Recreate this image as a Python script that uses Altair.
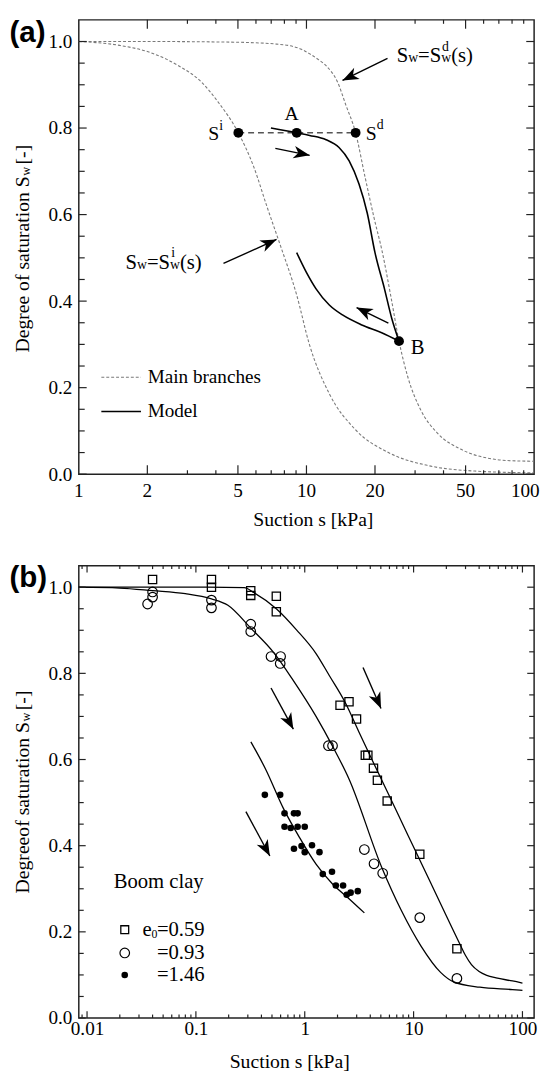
import math
import altair as alt
import pandas as pd

SERIF = "Liberation Serif"
SANS = "Liberation Sans"
FRAME = "#222222"

# ---------------- panel (a) data ----------------
dry_s = [1, 2, 4, 6, 7.4, 8.5, 9.5, 10.3, 11.3, 12.2, 13.7, 14.9, 16.44, 18.1, 19.9, 21.5, 23.5, 25.5, 27.9, 31.8, 37.6, 47.5, 66, 80, 100]
dry_v = [1.0, 1.0, 0.999, 0.997, 0.994, 0.990, 0.982, 0.972, 0.958, 0.944, 0.906, 0.853, 0.789, 0.686, 0.588, 0.515, 0.41, 0.3075, 0.224, 0.148, 0.095, 0.058, 0.035, 0.031, 0.03]
wet_s = [1, 1.51, 2.1, 2.74, 3.46, 4.08, 5.02, 5.88, 6.71, 7.7, 9.06, 10.3, 12.6, 16.4, 22.9, 34.2, 56, 100]
wet_v = [1.0, 0.991, 0.973, 0.944, 0.906, 0.861, 0.789, 0.709, 0.618, 0.527, 0.414, 0.30, 0.186, 0.103, 0.05, 0.02, 0.007, 0.003]
mod1_s = [6.98, 9.06, 10.33, 12.2, 13.9, 15.4, 17.0, 18.5, 20.0, 22.0, 23.7, 25.5]
mod1_v = [0.800, 0.789, 0.783, 0.773, 0.755, 0.724, 0.671, 0.603, 0.512, 0.429, 0.36, 0.3075]
mod2_s = [9.06, 9.98, 11.0, 12.6, 14.4, 17.5, 21.4, 25.5]
mod2_v = [0.512, 0.467, 0.429, 0.391, 0.368, 0.345, 0.327, 0.3075]
pt_names = ["si", "A", "sd", "B"]
pt_s = [5.02, 9.06, 16.44, 25.5]
pt_v = [0.789, 0.789, 0.789, 0.3075]
scan_s = [5.02, 16.44]
scan_v = [0.789, 0.789]
# arrows: tail s, tail v, tip s, tip v
arrows_a = [
    (22.7, 0.961, 14.4, 0.91),
    (7.3, 0.753, 10.33, 0.737),
    (4.32, 0.487, 7.39, 0.5425),
    (22.9, 0.349, 16.6, 0.385),
]

# ---------------- panel (b) data ----------------
c59_s = [0.0084, 0.1, 0.278, 0.343, 0.548, 0.84, 1.27, 1.68, 2.38, 3.13, 4.14, 5.84, 8.85, 11.4, 17.7, 26.8, 30, 34, 40, 47, 57.3, 81, 100]
c59_v = [1.0, 1.0, 0.999, 0.987, 0.950, 0.901, 0.846, 0.795, 0.730, 0.665, 0.600, 0.521, 0.425, 0.367, 0.265, 0.170, 0.145, 0.124, 0.108, 0.099, 0.093, 0.086, 0.081]
c93_s = [0.0084, 0.02, 0.04, 0.08, 0.139, 0.197, 0.319, 0.519, 0.786, 1.27, 1.8, 2.55, 5.09, 7.7, 11.7, 17.7, 23.3, 40.6, 81, 100]
c93_v = [1.0, 0.998, 0.992, 0.985, 0.973, 0.958, 0.905, 0.848, 0.783, 0.70, 0.631, 0.555, 0.35, 0.25, 0.167, 0.106, 0.084, 0.0715, 0.066, 0.064]
c146_s = [0.32, 0.436, 0.638, 0.90, 1.27, 1.80, 2.55, 3.53]
c146_v = [0.641, 0.578, 0.486, 0.418, 0.357, 0.311, 0.277, 0.244]
sq_s = [0.040, 0.139, 0.139, 0.319, 0.319, 0.548, 0.548, 2.11, 2.55, 2.99, 3.6, 3.8, 4.28, 4.65, 5.72, 11.4, 25.0]
sq_v = [1.018, 1.018, 1.0, 0.992, 0.981, 0.979, 0.943, 0.726, 0.734, 0.694, 0.610, 0.610, 0.58, 0.552, 0.504, 0.38, 0.161]
ci_s = [0.040, 0.040, 0.036, 0.139, 0.139, 0.319, 0.319, 0.49, 0.60, 0.595, 1.65, 1.80, 3.53, 4.33, 5.2, 11.4, 25.0]
ci_v = [0.989, 0.977, 0.961, 0.970, 0.952, 0.914, 0.897, 0.839, 0.839, 0.823, 0.632, 0.632, 0.391, 0.358, 0.336, 0.233, 0.092]
dot_s = [0.43, 0.595, 0.652, 0.796, 0.86, 0.652, 0.743, 0.86, 1.0, 0.796, 0.934, 1.0, 1.166, 1.365, 1.465, 1.78, 1.93, 2.25, 2.43, 2.64, 3.07]
dot_v = [0.518, 0.518, 0.475, 0.475, 0.475, 0.444, 0.441, 0.444, 0.444, 0.393, 0.399, 0.385, 0.401, 0.385, 0.334, 0.3395, 0.3075, 0.3075, 0.286, 0.291, 0.2945]
arrows_b = [
    (3.43, 0.8135, 5.02, 0.7185),
    (0.49, 0.766, 0.786, 0.6705),
    (0.288, 0.479, 0.478, 0.376),
]

# ---------------- axis tick values / labels ----------------
Y_LABELS = [0, 0.2, 0.4, 0.6, 0.8, 1.0]
Y_MINOR = [0.05, 0.1, 0.15, 0.25, 0.3, 0.35, 0.45, 0.5, 0.55, 0.65, 0.7, 0.75, 0.85, 0.9, 0.95]
A_XLAB = [1, 2, 5, 10, 20, 50]
A_XLAB_TXT = ["1", "2", "5", "10", "20", "50"]
A_XLAB_END = [100]
A_XLAB_END_TXT = ["100"]
A_XMAJ = [2, 5, 10, 20, 50]
A_XMIN = [3, 4, 6, 7, 8, 9, 30, 40, 60, 70, 80, 90]
B_XLAB = [0.01, 0.1, 1, 10, 100]
B_XMIN = [0.009, 0.02, 0.03, 0.04, 0.05, 0.06, 0.07, 0.08, 0.09,
          0.2, 0.3, 0.4, 0.5, 0.6, 0.7, 0.8, 0.9,
          2, 3, 4, 5, 6, 7, 8, 9,
          20, 30, 40, 50, 60, 70, 80, 90]

# ---------------- geometry ----------------
W = 463
HA = 462
HB = 460
XA_DOM = [1, 100]
XB_DOM = [0.0084, 128]
Y_DOM = [0, 1.05]
LABEL_SIZE = 19.5


def xaxis(vals, pad):
    return alt.Axis(values=vals, format="~g", labelFont=SERIF, labelFontSize=LABEL_SIZE,
                    labelColor="black", ticks=False, domain=False, grid=False,
                    labelPadding=pad, labelFlush=False, labelOverlap=False, title=None)


def yaxis():
    return alt.Axis(values=Y_LABELS, format=".1f", labelFont=SERIF, labelFontSize=LABEL_SIZE,
                    labelColor="black", ticks=False, domain=False, grid=False,
                    labelPadding=7, labelOverlap=False, title=None)


def pix_factory(dom, H):
    lo, hi = math.log10(dom[0]), math.log10(dom[1])

    def pix(s, v):
        return (W * (math.log10(s) - lo) / (hi - lo), H * (1 - v / Y_DOM[1]))
    return pix


PA = dict(
    xs=alt.Scale(type="log", domain=XA_DOM, nice=False),
    ys=alt.Scale(domain=Y_DOM, nice=False, zero=False),
    xax=None, yax=yaxis(), H=HA, pix=pix_factory(XA_DOM, HA),
)
PB = dict(
    xs=alt.Scale(type="log", domain=XB_DOM, nice=False),
    ys=alt.Scale(domain=Y_DOM, nice=False, zero=False),
    xax=xaxis(B_XLAB, 2), yax=yaxis(), H=HB, pix=pix_factory(XB_DOM, HB),
)


def X(p):
    return alt.X("s:Q", scale=p["xs"], axis=p["xax"])


def Y(p):
    return alt.Y("v:Q", scale=p["ys"], axis=p["yax"])


def curve(p, s, v, color="black", width=1.4, dash=None, interp="monotone"):
    df = pd.DataFrame({"s": s, "v": v})
    kw = dict(color=color, strokeWidth=width, interpolate=interp)
    if dash:
        kw["strokeDash"] = dash
    return alt.Chart(df).mark_line(**kw).encode(x=X(p), y=Y(p))


def ticks(p, xmaj, xmin, lxmaj, lxmin, lymaj, lymin):
    H = p["H"]
    out = []
    for vals, L in [(Y_LABELS, lymaj), (Y_MINOR, lymin)]:
        base = alt.Chart(pd.DataFrame({"v": vals})).mark_rule(color=FRAME, strokeWidth=1.2)
        out.append(base.encode(y=Y(p), x=alt.value(0), x2=alt.value(L)))
        out.append(base.encode(y=Y(p), x=alt.value(W), x2=alt.value(W - L)))
    for vals, L in [(xmaj, lxmaj), (xmin, lxmin)]:
        base = alt.Chart(pd.DataFrame({"s": vals})).mark_rule(color=FRAME, strokeWidth=1.2)
        out.append(base.encode(x=X(p), y=alt.value(H), y2=alt.value(H - L)))
        out.append(base.encode(x=X(p), y=alt.value(0), y2=alt.value(L)))
    return out


def xlabels(p, vals, txt, pad, dx=0):
    df = pd.DataFrame({"s": vals, "t": txt})
    return alt.Chart(df).mark_text(align="center", baseline="top", dx=dx, fontSize=LABEL_SIZE,
                                   font=SERIF, color="black").encode(
        x=X(p), y=alt.value(p["H"] + pad), text="t:N")


def text(p, s, v, t, size=20, dx=0, dy=0, align="left", baseline="alphabetic"):
    df = pd.DataFrame({"s": [s], "v": [v], "t": [t]})
    return alt.Chart(df).mark_text(align=align, baseline=baseline, dx=dx, dy=dy, fontSize=size,
                                   font=SERIF, color="black").encode(x=X(p), y=Y(p), text="t:N")


def comp(p, s, v, pieces, baseline="alphabetic"):
    return [text(p, s, v, t, size=sz, dx=dx, dy=dy, baseline=baseline) for (t, sz, dx, dy) in pieces]


def ptext(x, y, t, size, align="center", baseline="middle", angle=None, dx=0, dy=0,
          font=SERIF, weight="normal"):
    kw = dict(align=align, baseline=baseline, fontSize=size, font=font, fontWeight=weight,
              color="black", dx=dx, dy=dy)
    if angle is not None:
        kw["angle"] = angle
    return alt.Chart(pd.DataFrame({"t": [t]})).mark_text(**kw).encode(
        x=alt.value(x), y=alt.value(y), text="t:N")


HEAD = "M0,0L0.7,1.8L0,1.3L-0.7,1.8Z"


def arrow(p, a):
    s0, v0, s1, v1 = a
    df = pd.DataFrame({"s": [s0, s1], "v": [v0, v1]})
    line = alt.Chart(df).mark_line(color="black", strokeWidth=1.4).encode(x=X(p), y=Y(p))
    x0, y0 = p["pix"](s0, v0)
    x1, y1 = p["pix"](s1, v1)
    ang = math.degrees(math.atan2(x1 - x0, -(y1 - y0))) % 360
    head = alt.Chart(pd.DataFrame({"s": [s1], "v": [v1]})).mark_point(
        shape=HEAD, filled=True, size=330, angle=ang, color="black", opacity=1, strokeWidth=0
    ).encode(x=X(p), y=Y(p))
    return [line, head]


def ytitle(main):
    return [
        ptext(-51, 159, main, 20, align="right", baseline="alphabetic", angle=270),
        ptext(-51, 159, "w", 12.5, align="left", baseline="alphabetic", angle=270, dx=0.5, dy=1),
        ptext(-51, 159, "[-]", 20, align="left", baseline="alphabetic", angle=270, dx=12),
    ]


def sym(p, s, v, shape, size, filled, sw=1.2):
    df = pd.DataFrame({"s": s, "v": v})
    if filled:
        return alt.Chart(df).mark_circle(size=size, color="black", opacity=1).encode(x=X(p), y=Y(p))
    return alt.Chart(df).mark_point(shape=shape, filled=False, size=size, color="black",
                                    strokeWidth=sw, opacity=1).encode(x=X(p), y=Y(p))


# ---------------- build panel (a) ----------------
GRAY = "#7a7a7a"
p = PA
la = []
la.append(curve(p, dry_s, dry_v, color=GRAY, width=1.1, dash=[3, 2]))
la.append(curve(p, wet_s, wet_v, color=GRAY, width=1.1, dash=[3, 2]))
la.append(curve(p, scan_s, scan_v, color="#555555", width=1.6, dash=[6, 4], interp="linear"))
la.append(curve(p, mod1_s, mod1_v, width=1.6))
la.append(curve(p, mod2_s, mod2_v, width=1.6))
la += ticks(p, A_XMAJ, A_XMIN, 9, 4, 8, 6)
la.append(xlabels(p, A_XLAB, A_XLAB_TXT, 8))
la.append(xlabels(p, A_XLAB_END, A_XLAB_END_TXT, 8, dx=-9))
for a in arrows_a:
    la += arrow(p, a)
la.append(sym(p, pt_s, pt_v, "circle", 100, True))
# legend (a)
la.append(curve(p, [1.256, 1.875], [0.224, 0.224], color=GRAY, width=1.1, dash=[3, 2], interp="linear"))
la.append(curve(p, [1.256, 1.875], [0.145, 0.145], width=1.6, interp="linear"))
la.append(text(p, 2.007, 0.224, "Main branches", size=19.5, baseline="middle"))
la.append(text(p, 2.007, 0.145, "Model", size=19.5, baseline="middle"))
# labels
la += comp(p, 3.70, 0.773, [("S", 20, 0, 0), ("i", 14, 11.3, -10)])
la += comp(p, 18.2, 0.773, [("S", 20, 0, 0), ("d", 14, 11.3, -11)])
la.append(text(p, 8.6, 0.832, "A", size=20, align="center", baseline="middle"))
la.append(text(p, 28.7, 0.291, "B", size=21, baseline="middle"))
la += comp(p, 24.9, 0.9516, [("S", 21, 0, 0), ("w", 14, 11.7, 0), ("=S", 21, 21.8, 0),
                             ("w", 14, 45.3, 0), ("d", 14, 46.0, -12), ("(s)", 21, 55.4, 0)])
la += comp(p, 1.603, 0.474, [("S", 21, 0, 0), ("w", 14, 11.7, 0), ("=S", 21, 21.8, 0),
                             ("w", 14, 45.3, 0), ("i", 14, 46.5, -12), ("(s)", 21, 55.4, 0)])
la += ytitle("Degree of saturation S")
la.append(ptext(238.5, HA + 47, "Suction s [kPa]", 20))
la.append(ptext(-70.5, -2, "(a)", 30, align="left", baseline="top", font=SANS, weight="bold"))
chart_a = alt.layer(*la).properties(width=W, height=HA)

# ---------------- build panel (b) ----------------
p = PB
lb = []
lb.append(curve(p, c59_s, c59_v, width=1.3))
lb.append(curve(p, c93_s, c93_v, width=1.3))
lb.append(curve(p, c146_s, c146_v, width=1.3))
lb += ticks(p, B_XLAB, B_XMIN, 7, 3.5, 7, 5)
for a in arrows_b:
    lb += arrow(p, a)
lb.append(sym(p, sq_s, sq_v, "square", 70, False, 1.3))
lb.append(sym(p, ci_s, ci_v, "circle", 95, False, 1.2))
lb.append(sym(p, dot_s, dot_v, "circle", 45, True))
# legend (b)
lb.append(sym(p, [0.0222], [0.205], "square", 64, False, 1.3))
lb.append(sym(p, [0.0222], [0.151], "circle", 95, False, 1.2))
lb.append(sym(p, [0.0222], [0.100], "circle", 45, True))
lb += comp(p, 0.0324, 0.205, [("e", 21, 0, 0), ("0", 12, 9.0, 4), ("=0.59", 21, 14.5, 0)],
           baseline="middle")
lb.append(text(p, 0.0324, 0.151, "=0.93", size=21, dx=14.5, baseline="middle"))
lb.append(text(p, 0.0324, 0.100, "=1.46", size=21, dx=14.5, baseline="middle"))
lb.append(text(p, 0.01755, 0.315, "Boom clay", size=21, baseline="middle"))
lb += ytitle("Degreeof saturation S")
lb.append(ptext(214.5, HB + 45, "Suction s [kPa]", 20))
lb.append(ptext(-70.5, -2, "(b)", 30, align="left", baseline="top", font=SANS, weight="bold"))
chart_b = alt.layer(*lb).properties(width=W, height=HB)

chart = alt.vconcat(chart_a, chart_b, spacing=32).properties(
    padding={"left": 0, "top": 0, "right": 0, "bottom": 0}, background="white"
).configure_view(stroke=FRAME, strokeWidth=1.5)

chart.save("out.html", embed_options={"renderer": "svg", "actions": False})
